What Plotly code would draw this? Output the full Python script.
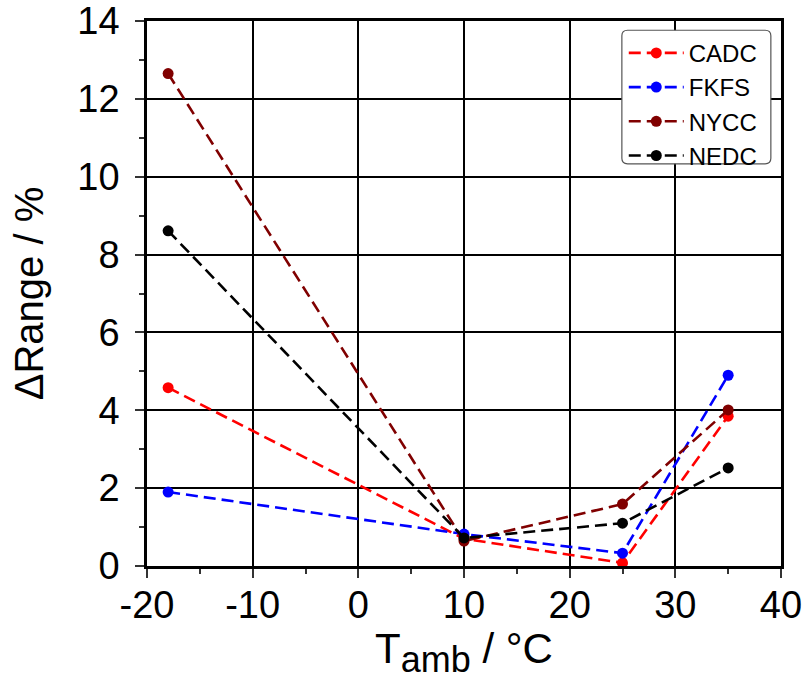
import plotly.graph_objects as go

temps = [-18, 10, 25, 35]
cadc = [4.58, 0.70, 0.08, 3.85]
fkfs = [1.90, 0.82, 0.33, 4.90]
nycc = [12.65, 0.64, 1.59, 4.01]
nedc = [8.61, 0.72, 1.10, 2.52]

x_ticks = [-20, -10, 0, 10, 20, 30, 40]
x_ticktext = ["-20", "-10", "0", "10", "20", "30", "40"]
y_ticks = [0, 2, 4, 6, 8, 10, 12, 14]

series = [("CADC", cadc, "#ff0000"), ("FKFS", fkfs, "#0000ff"),
          ("NYCC", nycc, "#800000"), ("NEDC", nedc, "#000000")]

fig = go.Figure()
for name, vals, col in series:
    fig.add_trace(go.Scatter(x=temps, y=vals, name=name, mode="lines+markers",
                             line=dict(color=col, width=2.6, dash="12px,6px"),
                             marker=dict(color=col, size=11)))

font = "Liberation Sans, Arial, sans-serif"

# rounded legend frame (paper coordinates of the plot domain)
x0, x1, y0, y1 = 0.749, 0.984, 0.738, 0.983
rx, ry = 0.009, 0.010
path = (f"M {x0+rx},{y0} L {x1-rx},{y0} Q {x1},{y0} {x1},{y0+ry} "
        f"L {x1},{y1-ry} Q {x1},{y1} {x1-rx},{y1} L {x0+rx},{y1} "
        f"Q {x0},{y1} {x0},{y1-ry} L {x0},{y0+ry} Q {x0},{y0} {x0+rx},{y0} Z")
fig.add_shape(type="path", path=path, xref="paper", yref="paper",
              fillcolor="white", line=dict(color="#555", width=1.2), layer="above")

fig.update_layout(
    width=808, height=680,
    margin=dict(l=147, r=27, t=21, b=114),
    plot_bgcolor="white", paper_bgcolor="white",
    font=dict(family=font, color="black"),
    showlegend=True,
    legend=dict(x=0.752, y=0.982, xanchor="left", yanchor="top",
                bgcolor="rgba(0,0,0,0)", borderwidth=0,
                font=dict(size=24, family=font), tracegroupgap=0,
                itemwidth=55),
    xaxis=dict(range=[-20, 40], tickvals=x_ticks, ticktext=x_ticktext,
               automargin=False,
               showgrid=True, gridcolor="black", gridwidth=2,
               showline=True, linecolor="black", linewidth=2.5, mirror=True,
               ticks="outside", ticklen=9, tickwidth=1.5, tickcolor="#333",
               tickfont=dict(size=38), ticklabelstandoff=-5,
               minor=dict(dtick=5, ticks="outside", ticklen=5, tickcolor="#333", showgrid=False),
               zeroline=False,
               title=dict(text="T<sub><span style='font-size:36px'>amb</span></sub> / °C",
                          font=dict(size=42), standoff=4)),
    yaxis=dict(range=[0, 14], tickvals=y_ticks,
               automargin=False,
               showgrid=True, gridcolor="black", gridwidth=2,
               showline=True, linecolor="black", linewidth=2.5, mirror=True,
               ticks="outside", ticklen=9, tickwidth=1.5, tickcolor="#333",
               tickfont=dict(size=38), ticklabelstandoff=8,
               minor=dict(dtick=1, ticks="outside", ticklen=5, tickcolor="#333", showgrid=False),
               zeroline=False,
               title=dict(text="ΔRange / %", font=dict(size=40), standoff=22)),
)
fig.write_html("out.html")
